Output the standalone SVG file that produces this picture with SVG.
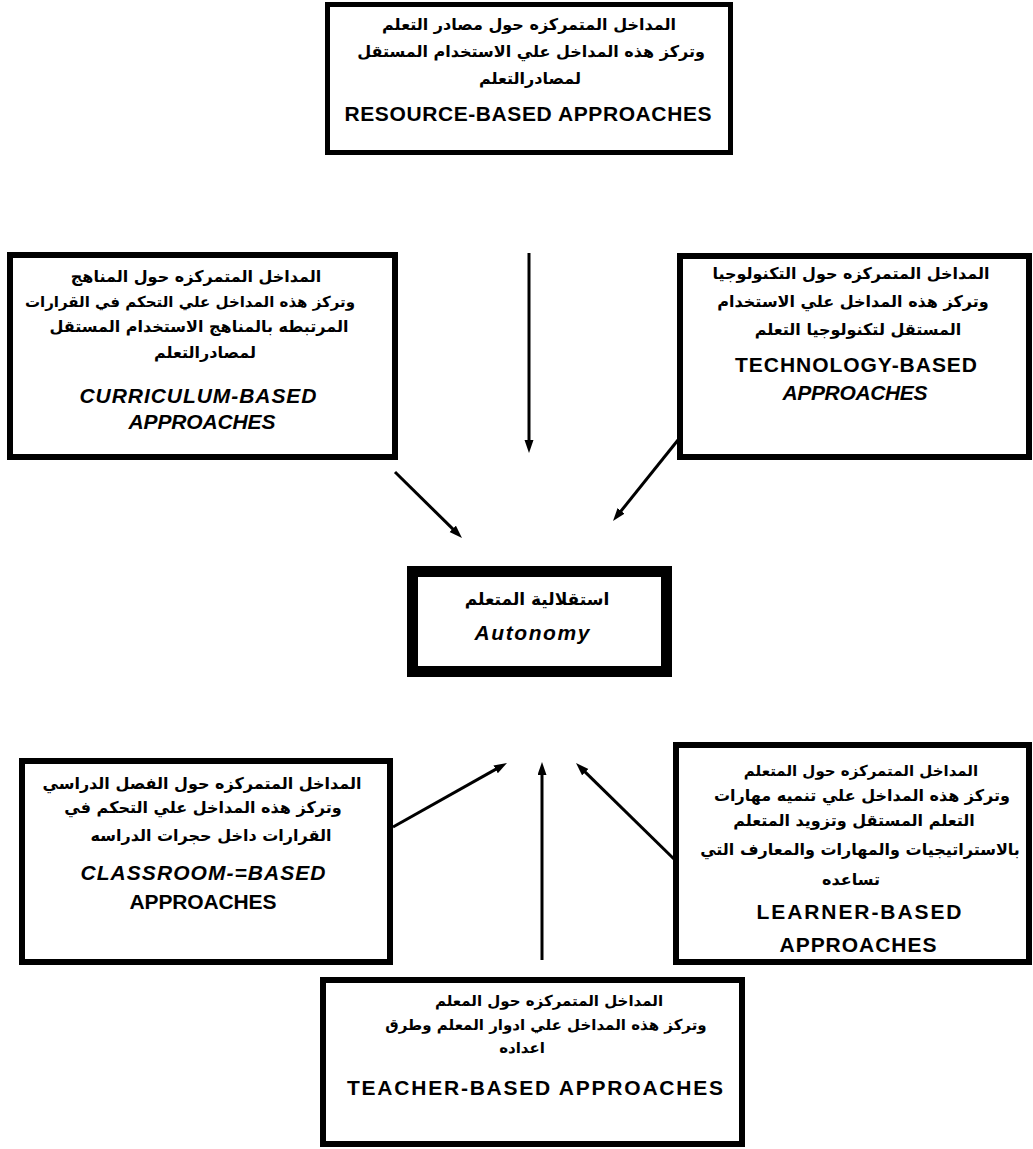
<svg xmlns="http://www.w3.org/2000/svg" width="1033" height="1149" viewBox="0 0 1033 1149">
<style>
.box{fill:#fff;stroke:#000;stroke-width:6}
.ar{font-family:"DejaVu Sans",sans-serif;font-weight:bold;font-size:16px;text-anchor:middle;fill:#000}
.sm{font-size:15px}
.en{font-family:"Liberation Sans",Arial,sans-serif;font-weight:bold;font-size:21px;text-anchor:middle;fill:#000}
.it{font-style:italic}
.conn line{stroke:#000;stroke-width:3}
</style>
<defs>
<marker id="ah" markerUnits="userSpaceOnUse" markerWidth="14" markerHeight="10" refX="5" refY="4.5" orient="auto">
<path d="M0,0 L13,4.5 L0,9 z" fill="#000"/>
</marker>
</defs>
<rect width="1033" height="1149" fill="#fff"/>

<g id="resource">
<rect class="box" x="327.5" y="4.5" width="403" height="148" style="stroke-width:5"/>
<text class="ar" x="529" y="30">المداخل المتمركزه حول مصادر التعلم</text>
<text class="ar" x="531" y="57">وتركز هذه المداخل علي الاستخدام المستقل</text>
<text class="ar" x="530" y="84">لمصادرالتعلم</text>
<text class="en" x="528" y="121" textLength="367" lengthAdjust="spacing">RESOURCE-BASED  APPROACHES</text>
</g>

<g id="curriculum">
<rect class="box" x="10" y="255" width="385" height="202"/>
<text class="ar" x="196" y="282">المداخل المتمركزه حول المناهج</text>
<text class="ar sm" x="190" y="307">وتركز هذه المداخل علي التحكم في القرارات</text>
<text class="ar" x="199" y="332">المرتبطه بالمناهج الاستخدام المستقل</text>
<text class="ar" x="205" y="358">لمصادرالتعلم</text>
<text class="en it" x="198" y="403" textLength="237" lengthAdjust="spacing">CURRICULUM-BASED</text>
<text class="en it" x="202" y="429" textLength="147" lengthAdjust="spacing">APPROACHES</text>
</g>

<g id="technology">
<rect class="box" x="680" y="256" width="349" height="201"/>
<text class="ar" x="851" y="279">المداخل المتمركزه حول التكنولوجيا</text>
<text class="ar" x="853" y="307">وتركز هذه المداخل علي الاستخدام</text>
<text class="ar" x="858" y="335">المستقل لتكنولوجيا التعلم</text>
<text class="en" x="856" y="372" textLength="242" lengthAdjust="spacing">TECHNOLOGY-BASED</text>
<text class="en it" x="855" y="400" textLength="145" lengthAdjust="spacing">APPROACHES</text>
</g>

<g id="autonomy">
<rect class="box" x="412.5" y="571.5" width="254" height="100" style="stroke-width:11"/>
<text class="ar" x="537" y="605" style="font-size:17px">استقلالية المتعلم</text>
<text class="en it" x="532" y="640" textLength="115" lengthAdjust="spacing">Autonomy</text>
</g>

<g id="classroom">
<rect class="box" x="22" y="761" width="368" height="201"/>
<text class="ar" x="202" y="789">المداخل المتمركزه حول الفصل الدراسي</text>
<text class="ar" x="203" y="813">وتركز هذه المداخل علي التحكم في</text>
<text class="ar" x="211" y="841">القرارات داخل حجرات الدراسه</text>
<text class="en it" x="203" y="880" textLength="245" lengthAdjust="spacing">CLASSROOM-=BASED</text>
<text class="en" x="203" y="909" textLength="147" lengthAdjust="spacing">APPROACHES</text>
</g>

<g id="learner">
<rect class="box" x="676" y="745" width="353" height="217"/>
<text class="ar sm" x="861" y="776">المداخل المتمركزه حول المتعلم</text>
<text class="ar" x="862" y="801">وتركز هذه المداخل علي تنميه مهارات</text>
<text class="ar" x="854" y="826">التعلم المستقل وتزويد المتعلم</text>
<text class="ar" x="860" y="855">بالاستراتيجيات والمهارات والمعارف التي</text>
<text class="ar" x="851" y="885">تساعده</text>
<text class="en" x="859" y="919" textLength="205" lengthAdjust="spacing">LEARNER-BASED</text>
<text class="en" x="858" y="952" textLength="157" lengthAdjust="spacing">APPROACHES</text>
</g>

<g id="teacher">
<rect class="box" x="323" y="980" width="419" height="164"/>
<text class="ar sm" x="549" y="1006">المداخل المتمركزه حول المعلم</text>
<text class="ar sm" x="546" y="1030">وتركز هذه المداخل علي ادوار المعلم وطرق</text>
<text class="ar sm" x="522" y="1053">اعداده</text>
<text class="en" x="535" y="1095" textLength="376" lengthAdjust="spacing">TEACHER-BASED APPROACHES</text>
</g>

<g id="connectors" class="conn">
<line x1="529" y1="253" x2="529" y2="445" marker-end="url(#ah)"/>
<line x1="395" y1="472" x2="456.3" y2="532.4" marker-end="url(#ah)"/>
<line x1="678" y1="440" x2="618" y2="514.8" marker-end="url(#ah)"/>
<line x1="393" y1="827" x2="500" y2="766.9" marker-end="url(#ah)"/>
<line x1="542" y1="960" x2="542" y2="770" marker-end="url(#ah)"/>
<line x1="675" y1="860" x2="581.7" y2="768.6" marker-end="url(#ah)"/>
</g>
</svg>
